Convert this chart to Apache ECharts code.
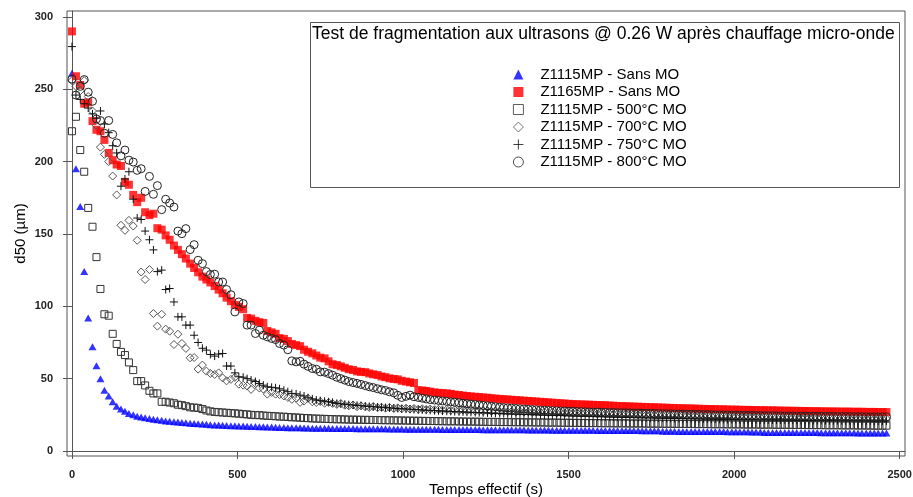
<!DOCTYPE html>
<html>
<head>
<meta charset="utf-8">
<script src="https://cdn.jsdelivr.net/npm/echarts@6/dist/echarts.min.js"></script>
<style>html,body{margin:0;padding:0;background:#fff}#c{width:913px;height:497px}</style>
</head>
<body>
<div id="c"></div>
<script>
// Time grid (s)
var timeS = [0,12,25,37,49,62,74,86,98,111,123,135,148,160,172,185,197,209,221,234,246,258,271,283,295,308,320,332,344,357,369,381,394,406,418,431,443,455,467,480,492,504,517,529,541,554,566,578,590,603,615,627,640,652,664,677,689,701,713,726,738,750,763,775,787,800,812,824,836,849,861,873,886,898,910,923,935,947,959,972,984,996,1009,1021,1033,1046,1058,1070,1082,1095,1107,1119,1132,1144,1156,1169,1181,1193,1205,1218,1230,1242,1255,1267,1279,1292,1304,1316,1328,1341,1353,1365,1378,1390,1402,1415,1427,1439,1451,1464,1476,1488,1501,1513,1525,1538,1550,1562,1574,1587,1599,1611,1624,1636,1648,1661,1673,1685,1697,1710,1722,1734,1747,1759,1771,1784,1796,1808,1820,1833,1845,1857,1870,1882,1894,1907,1919,1931,1943,1956,1968,1980,1993,2005,2017,2030,2042,2054,2066,2079,2091,2103,2116,2128,2140,2153,2165,2177,2189,2202,2214,2226,2239,2251,2263,2276,2288,2300,2312,2325,2337,2349,2362,2374,2386,2399,2411,2423,2435,2448,2460];

var z1115Sans = [261,195,169,124,92,72,59,50,42,38,
34,31,29,27.5,26,25,24,23.5,23,22.5,
22,21.6,21.2,20.8,20.5,20.2,20,19.7,19.5,19.2,
19,18.8,18.6,18.4,18.2,18,17.9,17.8,17.6,17.5,
17.4,17.3,17.2,17.1,17,16.9,16.8,16.7,16.6,16.5,
16.4,16.3,16.2,16.1,16.1,16,16,15.9,15.9,15.8,
15.8,15.7,15.7,15.7,15.6,15.6,15.6,15.5,15.5,15.5,
15.4,15.4,15.4,15.4,15.3,15.3,15.3,15.3,15.2,15.2,
15.2,15.2,15.1,15.1,15.1,15.1,15,15,15,15,
15,14.9,14.9,14.9,14.9,14.9,14.8,14.8,14.8,14.8,
14.8,14.7,14.7,14.7,14.7,14.7,14.6,14.6,14.6,14.6,
14.6,14.6,14.5,14.5,14.5,14.5,14.5,14.5,14.4,14.4,
14.4,14.4,14.4,14.3,14.3,14.3,14.3,14.3,14.3,14.2,
14.2,14.2,14.2,14.2,14.1,14.1,14.1,14.1,14.1,14.1,
14,14,14,14,14,13.6,13.6,13.6,13.6,13.5,
13.5,13.5,13.5,13.5,13.5,13.4,13.4,13.4,13.4,13.4,
13.4,13.3,13.3,13.3,13.3,13.3,13.3,13.2,13.2,13.2,
12.8,12.8,12.8,12.8,12.8,12.8,12.7,12.7,12.7,12.7,
12.7,12.7,12.7,12.7,12.6,12.6,12.6,12.6,12.6,12.6,
12.6,12.6,12.6,12.5,12.5,12.5,12.5,12.5,12.5,12.5,12.5];

var z1165Sans = [290,259,253,240,241,228,222,221,215,206,
201,198,197,186,184,177,172,175,165,163,
164,154,153,149,146,142,139,136,133,129.5,
126.5,123.5,120.5,118.5,116.5,114,111.5,109,106,103.5,
101,99.6,98,92,91.5,90,89,88.5,83,82,
81,78,77.5,76,74,73.2,72.5,70,68.6,67.5,
66,64.5,64,62,60,59.4,58.5,57.5,56.5,56,
55,54.7,54.5,53.6,53,52.5,51.5,51,50.2,49.8,
49.5,48.5,48,47.5,47,42,41.8,41.5,41,40.5,
40.2,40,39.8,39.5,39,38.7,38.3,38,37.7,37.5,
37.3,37,36.8,36.5,36.2,36,35.8,35.6,35.4,35.2,
35,34.8,34.6,34.4,34.2,34,33.8,33.6,33.4,33.2,
33,32.8,32.6,32.4,32.3,32.2,32.1,32,31.9,31.8,
31.7,31.6,31.4,31.3,31.1,31,30.9,30.8,30.7,30.6,
30.5,30.4,30.3,30.2,30.1,30,29.9,29.8,29.7,29.6,
29.5,29.4,29.4,29.3,29.2,29.1,29,29,28.9,28.8,
28.8,28.7,28.6,28.6,28.5,28.4,28.4,28.3,28.3,28.2,
28.2,28.1,28.1,28,27.9,27.9,27.8,27.8,27.7,27.7,
27.6,27.6,27.5,27.5,27.4,27.4,27.3,27.3,27.3,27.2,
27.2,27.2,27.1,27.1,27.1,27,27,27,26.9,26.9,26.9];

var z1115_500 = [221,231,208,193,168,155,134,112,94.5,93.5,
81,74,68.5,66.3,61.2,55.9,48.3,48.3,45.3,41.6,
39.8,39.8,34,34,33.5,33,32,31.7,31,30.2,
30,29.8,29,28,27.4,27,26.8,26.6,26.4,26.2,
26,25.8,25.5,25.3,25,24.8,24.8,24.5,24.3,24.2,
24,23.8,23.7,23.5,23.3,23.2,23,22.8,22.7,22.5,
22.4,22.3,22.2,22.1,22,21.9,21.9,21.8,21.7,21.7,
21.6,21.6,21.5,21.5,21.4,21.4,21.3,21.3,21.2,21.2,
21.1,21.1,21,21,20.9,20.9,20.8,20.8,20.7,20.7,
20.6,20.6,20.5,20.5,20.5,20.4,20.4,20.3,20.3,20.3,
20.2,20.2,20.1,20.1,20.1,20,20,20,19.9,19.9,
19.9,19.8,19.8,19.8,19.7,19.7,19.7,19.6,19.6,19.6,
19.5,19.5,19.5,19.4,19.4,19.4,19.3,19.3,19.3,19.3,
19.2,19.2,19.2,19.1,19.1,19.1,19.1,19,19,19,
19,18.9,18.9,18.9,18.9,18.8,18.8,18.8,18.8,18.7,
18.7,18.7,18.7,18.6,18.6,18.6,18.6,18.5,18.5,18.5,
18.5,18.4,18.4,18.4,18.4,18.3,18.3,18.3,18.3,18.2,
18.2,18.2,18.2,18.1,18.1,18.1,18.1,18,18,18,
18,17.9,17.9,17.9,17.9,17.8,17.8,17.8,17.8,17.7,
17.7,17.7,17.7,17.6,17.6,17.6,17.6,17.5,17.5,17.5,17.5];

var z1115_700 = [256,252,249,256,245,235,225,210,205,200,
190,177,156,152.5,159.4,155.5,145.6,123.7,118.5,125.4,
95,86.3,94.5,84.2,82.8,73.6,80.7,74.3,70.9,64.4,
64.6,56.6,59.4,55.2,53.6,52.9,54,50.5,48.5,49.5,
50.9,46.2,45.5,44.9,42.6,46.7,43.5,42.8,39.3,40.5,
39.3,39,38,37,35.7,36.5,33.6,34.5,36.4,34,
33.5,34.2,33,33.6,32.9,32.2,32.8,31.6,31.2,31.8,
30.6,31.2,30.5,30.1,30.7,29.9,30.2,29.6,30.1,29.4,
29.8,29.2,29.6,29,29.4,28.8,29.2,28.7,29,28.5,
28.8,28.3,28.7,28.1,28.5,27.9,28.3,27.8,28.1,27.6,
27.9,27.5,27.8,27.3,27.7,27.2,27.5,27.1,27.4,27,
27.3,26.9,27.1,26.7,27,26.6,26.9,26.4,26.8,26.3,
26.6,26.2,26.5,26,26.4,25.9,26.2,25.8,26.1,25.6,
26,25.5,25.8,25.3,25.7,25.2,25.6,25.1,25.4,25,
25.3,24.9,25.2,24.7,25,24.6,24.9,24.5,24.8,24.4,
24.7,24.3,24.5,24.1,24.4,24,24.3,23.9,24.2,23.8,
24.1,23.7,23.9,23.6,23.8,23.4,23.7,23.3,23.6,23.2,
23.5,23.1,23.4,23,23.3,22.9,23.2,22.8,23.1,22.8,
23,22.7,22.9,22.6,22.8,22.5,22.8,22.4,22.7,22.4,
22.6,22.3,22.5,22.2,22.5,22.1,22.4,22.1,22.3,22,22.2];

var z1115_750 = [279.5,246,243,240,237,233,230,235,226,220,
211,206,183,188,193,174,161,160,152,146,
139,124,125,111.6,112.3,103,92.7,92.7,87,87,
80,75,71,69.7,66.7,65.6,67,67.4,58.7,58.7,
54,51.3,51,50,49,48,46.7,45.5,44.4,44,
43.7,43,42,41,39.8,39.5,38.6,38,36.8,36,
35.2,34.8,34.4,34,33.6,32.9,32.6,32.3,32,31.8,
31.5,31.3,31,30.8,30.6,30.4,30.2,30,29.8,29.6,
29.4,29.2,29,28.9,28.7,28.5,28.4,28.2,28.1,27.9,
27.8,27.6,27.5,27.4,27.2,27.1,27,26.8,26.7,26.6,
26.5,26.4,26.3,26.1,26,25.9,25.8,25.7,25.6,25.5,
25.4,25.3,25.2,25.1,25,24.9,24.8,24.7,24.6,24.5,
24.5,24.4,24.3,24.2,24.1,24,24,23.9,23.8,23.7,
23.7,23.6,23.5,23.4,23.4,23.3,23.2,23.2,23.1,23,
23,22.9,22.9,22.8,22.7,22.7,22.6,22.6,22.5,22.4,
22.4,22.3,22.3,22.2,22.2,22.1,22.1,22,22,21.9,
21.9,21.8,21.8,21.8,21.7,21.7,21.6,21.6,21.6,21.5,
21.5,21.5,21.4,21.4,21.4,21.3,21.3,21.3,21.2,21.2,
21.2,21.1,21.1,21.1,21.1,21,21,21,21,20.9,
20.9,20.9,20.9,20.8,20.8,20.8,20.8,20.7,20.7,20.7,20.7];

var z1115_800 = [257,246,252,256.7,248,241.7,229.5,228.4,219.6,228.4,
218.8,213,204,208,201,199.7,194,195.1,179.4,189.8,
177.4,183.4,166.8,174,171.4,168.6,152,150.2,153.7,139.2,
142.6,131.8,129.5,124,122,122.2,116.8,116.8,111.6,108,
96.1,103,101.9,87,87,81.2,83.5,80,78.9,77.8,
77,74.3,73.2,70,62.3,61.6,62,60,58.5,57,
56.5,54.7,54.5,53.5,52.4,51,50,49,48,47.3,
46.7,46,45.2,44.4,43.8,43,42.3,41.8,40.9,40.2,
38.5,37,37.8,38.6,37.5,37,36.5,36,35.5,35.2,
34.9,34.6,34.3,34,33.7,33.4,33,32.7,32.4,32.1,
31.8,31.5,31.2,30.9,30.6,30.3,30,29.8,29.6,29.4,
29.2,29,28.8,28.6,28.5,28.3,28.2,28,27.9,27.8,
27.7,27.6,27.5,27.4,27.3,27.2,27.1,27,26.9,26.9,
26.8,26.7,26.6,26.6,26.5,26.4,26.4,26.3,26.2,26.2,
26.1,26,26,25.9,25.9,25.8,25.7,25.7,25.6,25.6,
25.5,25.4,25.4,25.3,25.3,25.2,25.2,25.1,25,25,
24.9,24.9,24.8,24.8,24.7,24.7,24.6,24.6,24.5,24.5,
24.4,24.4,24.4,24.3,24.3,24.2,24.2,24.2,24.1,24.1,
24.1,24,24,24,23.9,23.9,23.9,23.9,23.8,23.8,
23.8,23.8,23.7,23.7,23.7,23.7,23.6,23.6,23.6,23.6,23.6];

var seriesNames = ['Z1115MP - Sans MO','Z1165MP - Sans MO','Z1115MP - 500°C MO','Z1115MP - 700°C MO','Z1115MP - 750°C MO','Z1115MP - 800°C MO'];
var xTicks = [0,500,1000,1500,2000,2500];
var yTicks = [0,50,100,150,200,250,300];
var chartTitle = 'Test de fragmentation aux ultrasons @ 0.26 W après chauffage micro-onde';
var xName = 'Temps effectif (s)';
var yName = 'd50 (µm)';

function pairs(vals){ return vals.map(function(v,i){ return [timeS[i], v]; }); }

var FONT = 'Liberation Sans, Arial, sans-serif';
var chart = echarts.init(document.getElementById('c'), null, {renderer:'canvas'});

var hollow = function(col){ return {color:'rgba(0,0,0,0)', borderColor:col, borderWidth:1, opacity:1}; };
var plainNum = function(v){ return String(v); };

chart.setOption({
  animation:false,
  backgroundColor:'#fff',
  title:{text:chartTitle, left:307, top:20, textStyle:{fontFamily:FONT, fontSize:17.5, fontWeight:'normal', color:'#000'}},
  graphic:[{type:'rect', left:308, top:20, shape:{width:589, height:165}, style:{fill:'none', stroke:'#555', lineWidth:1}, z:0}],
  legend:{
    orient:'vertical', left:508, top:62, itemWidth:10, itemHeight:10, itemGap:2.5,
    itemStyle:{borderWidth:0.8},
    textStyle:{fontFamily:FONT, fontSize:15, color:'#000', padding:[0,0,0,12]},
    selectedMode:false,
    data:seriesNames
  },
  grid:{left:67, right:8, top:11, bottom:41, outerBoundsMode:'none', containLabel:false, show:true, borderColor:'#555', borderWidth:1, backgroundColor:'transparent'},
  xAxis:{
    type:'value', min:-15, max:2516,
    name:xName, nameLocation:'middle', nameGap:26, nameMoveOverlap:false,
    nameTextStyle:{fontFamily:FONT, fontSize:15, color:'#000'},
    axisLine:{show:true, lineStyle:{color:'#555'}},
    axisTick:{show:true, length:8, lineStyle:{color:'#555'}, customValues:xTicks},
    axisLabel:{fontFamily:FONT, fontSize:11, fontWeight:'bold', color:'#222', margin:13, customValues:xTicks, formatter:plainNum},
    splitLine:{show:false}
  },
  yAxis:{
    type:'value', min:-3.46, max:304.1,
    name:yName, nameLocation:'middle', nameGap:39, nameRotate:90, nameMoveOverlap:false,
    nameTextStyle:{fontFamily:FONT, fontSize:15, color:'#000'},
    axisLine:{show:true, lineStyle:{color:'#555'}},
    axisTick:{show:true, length:9, lineStyle:{color:'#555'}, customValues:yTicks},
    axisLabel:{fontFamily:FONT, fontSize:11, fontWeight:'bold', color:'#222', margin:14, customValues:yTicks, formatter:plainNum},
    splitLine:{show:false}
  },
  series:[
    {name:seriesNames[0], type:'scatter', symbol:'triangle', symbolSize:[8,7], itemStyle:{color:'#0000ff'}, data:pairs(z1115Sans)},
    {name:seriesNames[1], type:'scatter', symbol:'rect', symbolSize:8, itemStyle:{color:'#ff0000'}, data:pairs(z1165Sans)},
    {name:seriesNames[2], type:'scatter', symbol:'rect', symbolSize:7, itemStyle:hollow('#333'), data:pairs(z1115_500)},
    {name:seriesNames[3], type:'scatter', symbol:'diamond', symbolSize:[8,8], itemStyle:hollow('#555'), data:pairs(z1115_700)},
    {name:seriesNames[4], type:'scatter', symbol:'path://M0,5L10,5M5,0L5,10', symbolSize:8, itemStyle:hollow('#111'), data:pairs(z1115_750)},
    {name:seriesNames[5], type:'scatter', symbol:'circle', symbolSize:8, itemStyle:hollow('#222'), data:pairs(z1115_800)}
  ]
});
</script>
</body>
</html>
